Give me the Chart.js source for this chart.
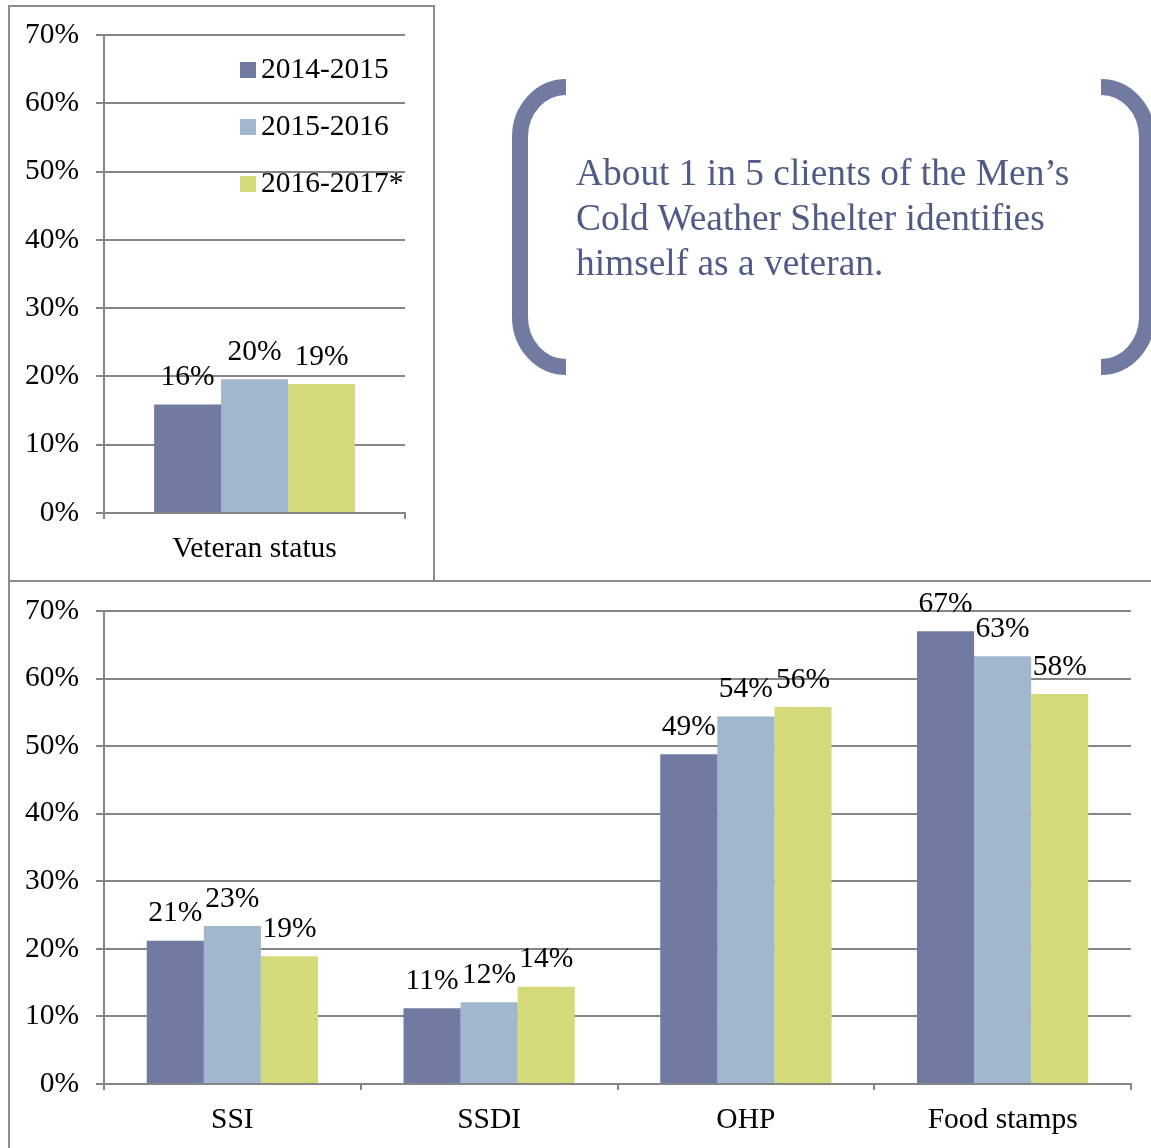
<!DOCTYPE html>
<html><head><meta charset="utf-8">
<script src="https://cdn.jsdelivr.net/npm/chart.js@4"></script>
<style>
html,body{margin:0;padding:0;background:#fff;overflow:hidden;width:1151px;height:1148px;}
.box{position:absolute;border:2px solid #8c8c8c;box-sizing:border-box;background:transparent;}
#topBox{left:8px;top:5px;width:427px;height:577px;}
#botBox{left:8px;top:580px;width:1165px;height:590px;}
.box canvas{position:absolute;left:0;top:0;}
#callout{position:absolute;left:576px;top:150px;font-family:"Liberation Serif","Times New Roman",serif;font-size:37.4px;line-height:45px;color:#505a87;white-space:nowrap;}
#brackets{position:absolute;left:0;top:0;}
</style></head>
<body>
<div id="topBox" class="box"><canvas id="vet" width="423" height="573"></canvas></div>
<div id="botBox" class="box"><canvas id="ben" width="1161" height="586"></canvas></div>
<svg id="brackets" width="1151" height="420">
  <path d="M566,87 A46,50 0 0 0 520,137 L520,317 A46,50 0 0 0 566,367" fill="none" stroke="#717ba1" stroke-width="16"/>
  <path d="M1101,87 A46,50 0 0 1 1147,137 L1147,317 A46,50 0 0 1 1101,367" fill="none" stroke="#717ba1" stroke-width="16"/>
</svg>
<div id="callout">About 1 in 5 clients of the Men’s<br>Cold Weather Shelter identifies<br>himself as a veteran.</div>
<script>
const seriesLabels = ['2014-2015', '2015-2016', '2016-2017*'];
const seriesColors = ['#717ba1', '#a1b7ce', '#d4da7a'];

const vetCategories = ['Veteran status'];
const vet2014 = [15.9];
const vet2015 = [19.6];
const vet2016 = [18.9];

const benCategories = ['SSI', 'SSDI', 'OHP', 'Food stamps'];
const ben2014 = [21.2, 11.2, 48.8, 67.0];
const ben2015 = [23.4, 12.1, 54.4, 63.3];
const ben2016 = [18.9, 14.4, 55.8, 57.7];

const yTicks = [0, 10, 20, 30, 40, 50, 60, 70];

const FS = 29.5;
const FONT = FS + 'px "Liberation Serif","Times New Roman",serif';
Chart.defaults.font.family = '"Liberation Serif","Times New Roman",serif';
Chart.defaults.font.size = FS;
Chart.defaults.color = '#000';

const GRID = '#868686';

const labelPlugin = {
  id: 'valLabels',
  afterDatasetsDraw(chart) {
    const ctx = chart.ctx;
    ctx.save();
    ctx.font = FONT;
    ctx.fillStyle = '#000';
    ctx.textAlign = 'center';
    ctx.textBaseline = 'middle';
    chart.data.datasets.forEach((ds, i) => {
      chart.getDatasetMeta(i).data.forEach((bar, j) => {
        ctx.fillText(Math.round(ds.data[j]) + '%', bar.x, bar.y - 27);
      });
    });
    ctx.restore();
  }
};

const legendPlugin = {
  id: 'boxLegend',
  afterDraw(chart) {
    if (!chart.options.plugins.boxLegend || !chart.options.plugins.boxLegend.show) return;
    const ctx = chart.ctx;
    ctx.save();
    ctx.font = FONT;
    ctx.textBaseline = 'middle';
    ctx.textAlign = 'left';
    chart.data.datasets.forEach((ds, i) => {
      const y = 63 + i * 57;
      ctx.fillStyle = ds.backgroundColor;
      ctx.fillRect(230, y - 8, 16, 16);
      ctx.fillStyle = '#000';
      ctx.fillText(ds.label, 251, y);
    });
    ctx.restore();
  }
};

function makeDatasets(arrs) {
  return arrs.map((d, i) => ({
    label: seriesLabels[i],
    data: d,
    backgroundColor: seriesColors[i],
    borderWidth: 0,
    barPercentage: 1.0,
    categoryPercentage: 0.667
  }));
}

function makeOptions(yWidth, pad, xHeight, xPad, legend) {
  return {
    responsive: false,
    animation: false,
    devicePixelRatio: 1,
    layout: { padding: pad },
    plugins: { legend: { display: false }, tooltip: { enabled: false }, boxLegend: { show: legend } },
    scales: {
      x: {
        grid: { display: true, drawOnChartArea: false, drawTicks: true, tickLength: 6, color: GRID, lineWidth: 2, offset: true },
        border: { display: true, color: GRID, width: 2 },
        ticks: { padding: xPad, font: { size: FS }, color: '#000', maxRotation: 0 },
        afterFit(s) { s.height = xHeight; s.paddingLeft = 0; s.paddingRight = 0; }
      },
      y: {
        min: 0, max: 70,
        afterBuildTicks(s) { s.ticks = yTicks.map(v => ({ value: v })); },
        grid: { color: GRID, lineWidth: 2, drawTicks: true, tickLength: 8 },
        border: { display: true, color: GRID, width: 2 },
        ticks: { padding: 17, font: { size: FS }, color: '#000', callback: v => v + '%' },
        afterFit(s) { s.width = yWidth; s.paddingTop = 0; s.paddingBottom = 0; }
      }
    }
  };
}

new Chart(document.getElementById('vet'), {
  type: 'bar',
  data: { labels: vetCategories, datasets: makeDatasets([vet2014, vet2015, vet2016]) },
  options: makeOptions(94, { left: 0, top: 28, right: 28, bottom: 0 }, 67, 13, true),
  plugins: [labelPlugin, legendPlugin]
});

new Chart(document.getElementById('ben'), {
  type: 'bar',
  data: { labels: benCategories, datasets: makeDatasets([ben2014, ben2015, ben2016]) },
  options: makeOptions(94, { left: 0, top: 29, right: 40, bottom: 14 }, 70, 13, false),
  plugins: [labelPlugin, legendPlugin]
});
</script>
</body></html>
